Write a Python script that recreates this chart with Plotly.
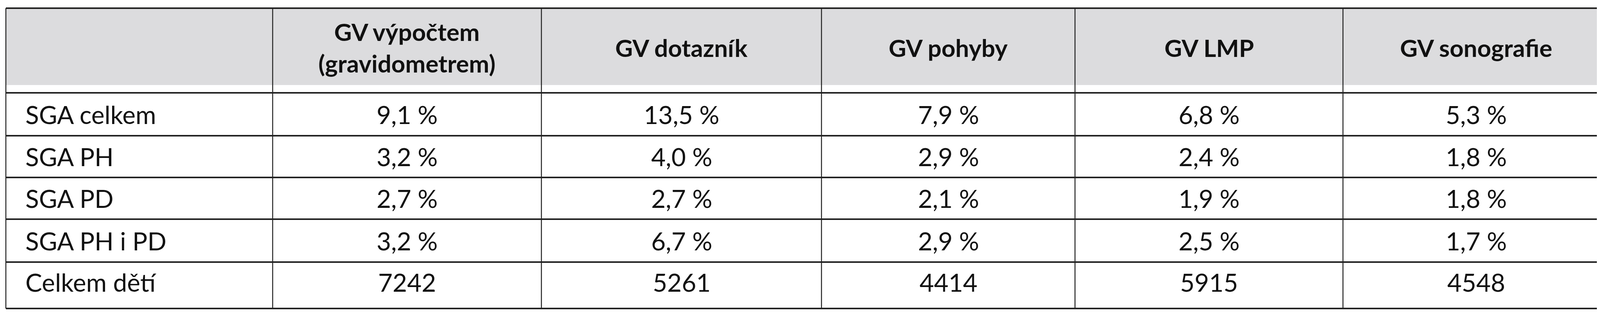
import plotly.graph_objects as go

# table contents
columns = ["", "GV výpočtem<br>(gravidometrem)", "GV dotazník", "GV pohyby", "GV LMP", "GV sonografie"]
row_labels = ["SGA celkem", "SGA PH", "SGA PD", "SGA PH i PD", "Celkem dětí"]
gv_vypoctem = ["9,1 %", "3,2 %", "2,7 %", "3,2 %", "7242"]
gv_dotaznik = ["13,5 %", "4,0 %", "2,7 %", "6,7 %", "5261"]
gv_pohyby = ["7,9 %", "2,9 %", "2,1 %", "2,9 %", "4414"]
gv_lmp = ["6,8 %", "2,4 %", "1,9 %", "2,5 %", "5915"]
gv_sono = ["5,3 %", "1,8 %", "1,8 %", "1,7 %", "4548"]

# geometry in pixels
col_edges = [7, 690, 1378, 2095, 2744, 3430, 4111]
row_edges = [13, 230, 340, 447, 554, 664, 783]
FONT = "Lato, DejaVu Sans, sans-serif"

fig = go.Figure()
shapes = []
annots = []

# header fill
shapes.append(dict(type="rect", x0=col_edges[0], x1=col_edges[-1], y0=row_edges[0], y1=row_edges[1] - 20,
                   fillcolor="#dcdcde", line_width=0, layer="below"))
for x in col_edges:
    shapes.append(dict(type="line", x0=x, x1=x, y0=row_edges[0], y1=row_edges[-1],
                       line=dict(color="#222", width=2.5)))
for y in row_edges:
    shapes.append(dict(type="line", x0=col_edges[0], x1=col_edges[-1], y0=y, y1=y,
                       line=dict(color="#222", width=4)))

for i, c in enumerate(columns):
    if not c:
        continue
    annots.append(dict(x=(col_edges[i] + col_edges[i + 1]) / 2, y=(row_edges[0] + row_edges[1]) / 2 - 8,
                       text="<b>" + c.replace("<br>", "</b><br><b>") + "</b>", showarrow=False,
                       font=dict(size=62, color="#111", family=FONT), align="center"))

data_cols = [gv_vypoctem, gv_dotaznik, gv_pohyby, gv_lmp, gv_sono]
for r, lab in enumerate(row_labels):
    yc = (row_edges[r + 1] + row_edges[r + 2]) / 2
    if r == len(row_labels) - 1:
        yc -= 8
    annots.append(dict(x=col_edges[0] + 48, y=yc, text=lab, showarrow=False, xanchor="left",
                       font=dict(size=64, color="#111", family=FONT)))
    for j, col in enumerate(data_cols):
        annots.append(dict(x=(col_edges[j + 1] + col_edges[j + 2]) / 2, y=yc, text=col[r],
                           showarrow=False, font=dict(size=64, color="#111", family=FONT)))

fig.update_layout(
    width=4125, height=800, margin=dict(l=0, r=0, t=0, b=0),
    plot_bgcolor="white", paper_bgcolor="white",
    xaxis=dict(range=[0, 4125], visible=False, fixedrange=True),
    yaxis=dict(range=[800, 0], visible=False, fixedrange=True),
    shapes=shapes, annotations=annots, showlegend=False,
)

fig.write_html("out.html")
